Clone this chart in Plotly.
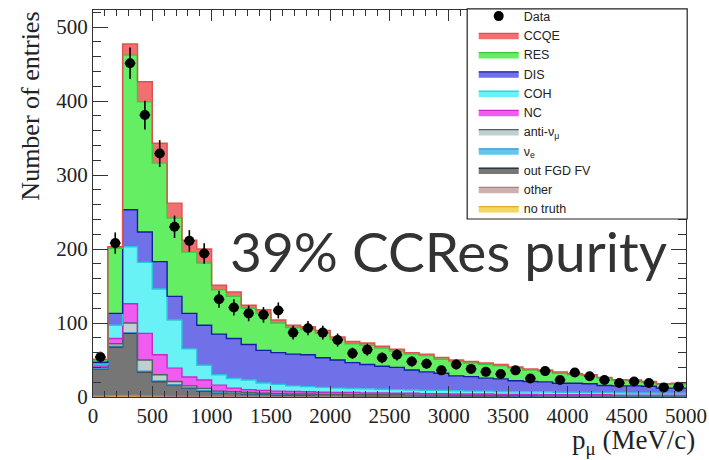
import numpy as np
import plotly.graph_objects as go

# Muon momentum binning (MeV/c): 40 bins of 125 MeV/c from 0 to 5000
bin_edges = list(range(0, 5001, 125))

# Stacked MC predictions per bin (entries), bottom of the stack first
no_truth = [0.8, 0.8, 0.8, 0.6, 0.6, 0.5, 0.5, 0.4, 0.4, 0.3, 0.3, 0.3] + [0.0] * 28
other = [0.5, 1.0, 1.2, 0.8, 0.6, 0.4, 0.3, 0.3, 0.2, 0.2] + [0.0] * 30
out_fgd_fv = [36.7, 66.2, 84.0, 32.6, 19.8, 15.1, 11.2, 7.8, 5.4, 4.5,
              3.7, 3.7, 3.0, 3.0, 3.0, 2.5, 2.5, 2.0, 2.0, 2.0,
              2.0, 2.0, 1.5, 1.5, 1.5, 1.5, 1.5, 1.5, 1.0, 1.0,
              1.0, 1.0, 1.0, 1.0, 1.0, 1.0, 1.0, 1.0, 1.0, 1.0]
nu_e = [0.4, 0.8, 1.0, 1.0, 0.8, 0.6, 0.5, 0.4, 0.4, 0.3,
        0.3, 0.2, 0.2, 0.2, 0.2, 0.2, 0.2, 0.2, 0.2, 0.2,
        0.2, 0.1, 0.2, 0.2, 0.1, 0.1, 0.1, 0.1, 0.2, 0.2,
        0.1, 0.1, 0.1, 0.1, 0.1, 0.1, 0.1, 0.1, 0.1, 0.1]
anti_numu = [1.6, 3.2, 13.0, 15.0, 8.2, 4.4, 2.5, 2.8, 1.6, 1.7,
             1.7, 0.8, 1.3, 0.8, 0.8, 0.8, 0.8, 0.8, 0.8, 0.8,
             0.8, 0.4, 0.8, 0.8, 0.4, 0.4, 0.4, 0.4, 0.8, 0.8,
             0.4, 0.4, 0.4, 0.4, 0.4, 0.4, 0.4, 0.4, 0.4, 0.4]
nc = [2.0, 7.0, 26.0, 36.0, 27.0, 18.0, 12.0, 11.3, 8.0, 5.0,
      4.0, 4.0, 3.5, 3.5, 3.0, 3.0, 2.5, 3.0, 2.5, 2.5,
      2.0, 2.5, 2.0, 2.0, 2.0, 2.0, 2.0, 1.5, 1.5, 1.5,
      1.5, 1.5, 1.5, 1.5, 1.5, 1.0, 1.0, 1.0, 1.0, 1.0]
coh = [2.0, 18.0, 77.0, 96.0, 89.0, 65.0, 38.0, 20.0, 14.0, 13.0,
       13.0, 10.0, 9.0, 7.5, 7.0, 6.5, 6.0, 5.5, 5.5, 5.0,
       5.0, 4.5, 4.5, 4.5, 4.5, 4.0, 4.0, 4.0, 3.5, 3.5,
       4.0, 3.5, 3.5, 3.0, 3.0, 3.5, 3.0, 3.0, 2.5, 2.5]
dis = [3.0, 16.0, 50.0, 41.0, 37.0, 32.0, 48.0, 54.0, 55.0, 54.0,
       48.0, 44.0, 43.0, 43.0, 43.0, 40.0, 38.0, 35.0, 33.0, 31.0,
       30.0, 27.0, 25.0, 23.0, 20.0, 19.5, 17.5, 17.0, 15.0, 14.0,
       13.5, 12.0, 12.0, 12.0, 9.5, 9.0, 9.5, 9.0, 7.0, 7.0]
res = [3.0, 88.0, 209.0, 176.0, 133.0, 106.0, 83.0, 84.0, 60.0, 57.0,
       49.0, 50.0, 40.0, 36.0, 34.0, 33.0, 28.0, 25.5, 26.0, 24.5,
       22.0, 21.5, 22.0, 19.0, 19.5, 18.5, 18.5, 17.5, 17.0, 15.5,
       14.5, 13.5, 11.5, 11.0, 10.0, 7.5, 7.0, 5.5, 5.0, 5.5]
ccqe = [1.0, 2.0, 15.0, 27.0, 27.0, 20.0, 16.0, 19.0, 6.0, 6.0,
        4.0, 5.0, 4.0, 3.0, 4.0, 4.0, 3.0, 3.0, 3.0, 2.5,
        2.5, 2.0, 2.0, 2.5, 2.0, 2.0, 2.0, 2.0, 1.5, 1.5,
        1.5, 2.0, 1.5, 1.0, 1.0, 1.0, 1.0, 1.0, 1.0, 1.0]

# Observed data counts per bin
data_counts = [54, 208, 451, 381, 329, 230, 211, 194, 132, 121,
               113, 111, 117, 87, 93, 87, 77, 59, 64, 53,
               57, 48, 45, 36, 44, 38, 34, 31, 36, 25,
               35, 23, 33, 28, 23, 19, 21, 19, 13, 14]

# (name, values, fill colour, outline colour), bottom of the stack first
components = [
    ("no truth", no_truth, "rgb(246,214,92)", "rgb(225,170,40)"),
    ("other", other, "rgb(206,176,176)", "rgb(170,130,130)"),
    ("out FGD FV", out_fgd_fv, "rgb(118,118,118)", "rgb(20,35,40)"),
    ("ν<sub>e</sub>", nu_e, "rgb(96,200,240)", "rgb(60,150,200)"),
    ("anti-ν<sub>μ</sub>", anti_numu, "rgb(192,208,208)", "rgb(80,95,95)"),
    ("NC", nc, "rgb(240,92,240)", "rgb(200,40,200)"),
    ("COH", coh, "rgb(104,242,246)", "rgb(40,200,220)"),
    ("DIS", dis, "rgb(112,112,232)", "rgb(20,30,160)"),
    ("RES", res, "rgb(100,238,100)", "rgb(60,200,60)"),
    ("CCQE", ccqe, "rgb(240,112,112)", "rgb(225,80,80)"),
]

fig = go.Figure()

for name, vals, fill, edge in components:
    fig.add_trace(go.Scatter(
        x=bin_edges,
        y=list(vals) + [vals[-1]],
        name=name,
        mode="lines",
        line=dict(shape="hv", color=edge, width=1.4),
        fillcolor=fill,
        stackgroup="mc",
        hoverinfo="skip",
    ))

centers = [(bin_edges[i] + bin_edges[i + 1]) / 2 for i in range(len(data_counts))]
fig.add_trace(go.Scatter(
    x=centers,
    y=data_counts,
    name="Data",
    mode="markers",
    marker=dict(symbol="circle", size=10, color="black"),
    error_y=dict(type="data", array=list(np.sqrt(data_counts)), color="black",
                 thickness=1.6, width=0),
    error_x=dict(type="constant", value=45, color="black", thickness=1.6, width=0),
))

serif = "Liberation Serif, Times New Roman, serif"

# Fixed-size legend frame in the top-right corner of the frame
fig.add_shape(type="rect", xref="paper", yref="paper",
              x0=0.631, x1=1.002, y0=0.46, y1=1.003,
              fillcolor="white", line=dict(color="#222", width=1.2),
              layer="above")

fig.update_layout(
    width=709,
    height=460,
    margin=dict(l=93, r=23, t=10, b=63, autoexpand=False),
    paper_bgcolor="white",
    plot_bgcolor="white",
    showlegend=True,
    legend=dict(
        x=0.642, xanchor="left", y=1.022, yanchor="top",
        traceorder="reversed",
        bgcolor="rgba(0,0,0,0)", borderwidth=0,
        font=dict(family="Liberation Sans, Arial, sans-serif", size=12.5, color="#222"),
        itemwidth=40,
        tracegroupgap=0,
        maxheight=1.0,
    ),
    xaxis=dict(
        range=[0, 5000],
        tickvals=list(range(0, 5001, 500)),
        ticks="inside", ticklen=11, tickwidth=1, tickcolor="#333",
        minor=dict(dtick=100, ticks="inside", ticklen=6, tickcolor="#333"),
        showgrid=False, zeroline=False,
        showline=True, linecolor="#333", linewidth=1.2, mirror="allticks",
        tickfont=dict(family=serif, size=21, color="#222"),
    ),
    yaxis=dict(
        range=[0, 523],
        tickvals=[0, 100, 200, 300, 400, 500],
        ticks="inside", ticklen=15, tickwidth=1, tickcolor="#333",
        minor=dict(dtick=20, ticks="inside", ticklen=8, tickcolor="#333"),
        showgrid=False, zeroline=False,
        showline=True, linecolor="#333", linewidth=1.2, mirror="allticks",
        tickfont=dict(family=serif, size=21, color="#222"),
    ),
    annotations=[
        dict(text="Number of entries", textangle=-90,
             xref="paper", yref="paper", x=-0.106, y=1.0,
             xanchor="center", yanchor="top", showarrow=False,
             font=dict(family=serif, size=26, color="#222")),
        dict(text="p<sub>μ</sub> (MeV/c)",
             xref="paper", yref="paper", x=1.018, y=-0.066,
             xanchor="right", yanchor="top", showarrow=False,
             font=dict(family=serif, size=27, color="#222")),
        dict(text="39% CCRes purity",
             xref="paper", yref="paper", x=0.6, y=0.378,
             xanchor="center", yanchor="middle", showarrow=False,
             font=dict(family="Lato, sans-serif", size=55, color="#333")),
    ],
)

fig.write_html("out.html")
